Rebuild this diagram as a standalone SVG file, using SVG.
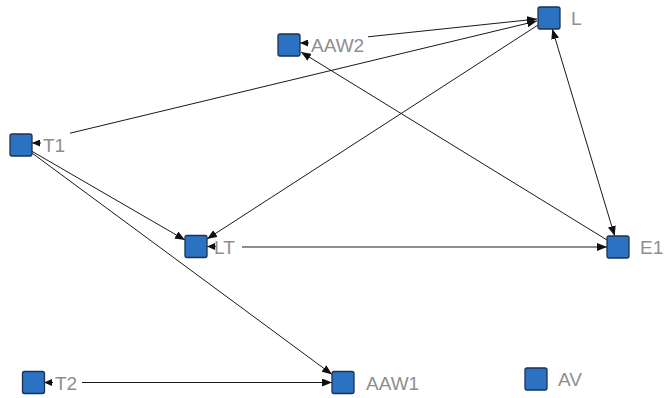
<svg xmlns="http://www.w3.org/2000/svg" width="664" height="398" viewBox="0 0 664 398">
<defs>
<marker id="arr" viewBox="0 0 10 8" refX="10" refY="4" markerWidth="10" markerHeight="8" markerUnits="userSpaceOnUse" orient="auto-start-reverse">
<path d="M0,0 L10,4 L0,8 z" fill="#111"/>
</marker>
<marker id="sarr" viewBox="0 0 8 7" refX="8" refY="3.5" markerWidth="8" markerHeight="7" markerUnits="userSpaceOnUse" orient="auto">
<path d="M0,0 L8,3.5 L0,7 z" fill="#111"/>
</marker>
</defs>
<style>
.node rect{fill:#2b72c2;stroke:#1d3250;stroke-width:1.3}
.node text{font-family:"Liberation Sans",Arial,sans-serif;font-size:19px;fill:#8e8e8e}
.edge{stroke:#1a1a1a;stroke-width:1;fill:none}
.e{marker-end:url(#arr)}
.s{marker-end:url(#sarr)}
</style>
<rect width="664" height="398" fill="#ffffff"/>
<g id="connectors">
<line class="edge e" x1="368" y1="36.8" x2="537" y2="19"/>
<line class="edge e" x1="70" y1="133.2" x2="537" y2="21"/>
<line class="edge e" x1="607" y1="240" x2="301" y2="52"/>
<line class="edge e" x1="552.3" y1="29" x2="614.7" y2="236" style="marker-start:url(#arr)"/>
<line class="edge e" x1="538" y1="25" x2="207" y2="239"/>
<line class="edge e" x1="32" y1="151.3" x2="185" y2="240"/>
<line class="edge e" x1="32" y1="153" x2="332" y2="374.4"/>
<line class="edge e" x1="242" y1="247" x2="607" y2="247"/>
<line class="edge e" x1="82" y1="382.5" x2="332" y2="382.5"/>
<line class="edge s" x1="41" y1="143" x2="32" y2="143"/>
<line class="edge s" x1="309" y1="43" x2="300" y2="43"/>
<line class="edge s" x1="216" y1="246.5" x2="207" y2="246.5"/>
<line class="edge s" x1="53" y1="382.5" x2="44" y2="382.5"/>
</g>
<g id="L" class="node"><rect x="538" y="7" width="22" height="22" rx="2"/><text x="571" y="25">L</text></g>
<g id="AAW2" class="node"><rect x="278" y="34" width="22" height="22" rx="2"/><text x="311" y="52">AAW2</text></g>
<g id="T1" class="node"><rect x="10" y="134" width="22" height="22" rx="2"/><text x="43" y="152">T1</text></g>
<g id="LT" class="node"><rect x="185" y="235.5" width="22" height="22" rx="2"/><text x="214" y="253.5">LT</text></g>
<g id="E1" class="node"><rect x="607" y="236" width="22" height="22" rx="2"/><text x="640" y="254">E1</text></g>
<g id="T2" class="node"><rect x="22.5" y="371.5" width="22" height="22" rx="2"/><text x="55" y="389.5">T2</text></g>
<g id="AAW1" class="node"><rect x="332" y="371.5" width="22" height="22" rx="2"/><text x="366" y="389.5">AAW1</text></g>
<g id="AV" class="node"><rect x="525" y="368" width="22" height="22" rx="2"/><text x="558" y="386">AV</text></g>
</svg>
